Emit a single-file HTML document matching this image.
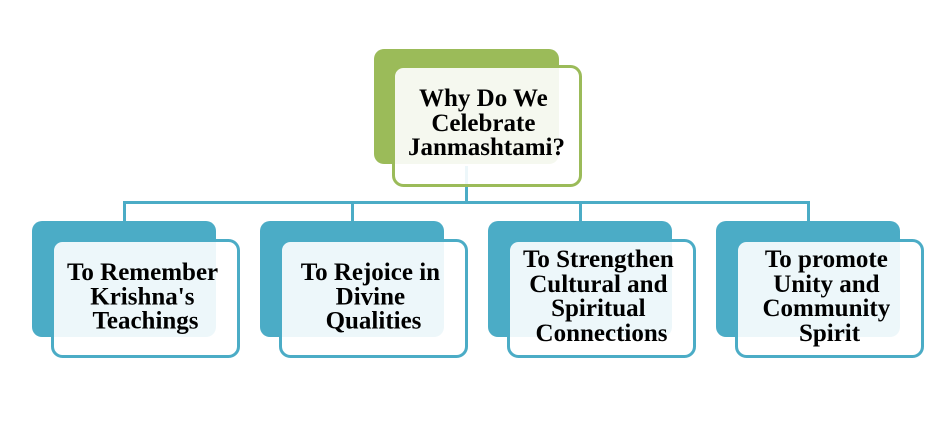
<!DOCTYPE html>
<html>
<head>
<meta charset="utf-8">
<style>
html,body{margin:0;padding:0;background:#fff;}
svg{display:block;}
text{font-family:"Liberation Serif",serif;font-weight:bold;font-size:25px;fill:#000;}
</style>
</head>
<body>
<svg width="950" height="422" viewBox="0 0 950 422" xmlns="http://www.w3.org/2000/svg">
  <!-- connectors -->
  <g stroke="#4bacc6" stroke-width="3" fill="none">
    <line x1="466.5" y1="166" x2="466.5" y2="202.5"/>
    <line x1="123" y1="202.5" x2="810" y2="202.5"/>
    <line x1="124.5" y1="201" x2="124.5" y2="222"/>
    <line x1="352.5" y1="201" x2="352.5" y2="222"/>
    <line x1="580.5" y1="201" x2="580.5" y2="222"/>
    <line x1="808.5" y1="201" x2="808.5" y2="222"/>
  </g>

  <!-- title -->
  <rect x="374" y="49" width="185" height="115" rx="10" fill="#9bbb59"/>
  <rect x="393.5" y="66.5" width="187" height="119" rx="10" fill="#fff" fill-opacity="0.9" stroke="#9bbb59" stroke-width="3"/>
  <text text-anchor="middle">
    <tspan x="486.5" y="106">Why Do We</tspan>
    <tspan x="486.5" y="131">Celebrate</tspan>
    <tspan x="486.5" y="155">Janmashtami?</tspan>
  </text>

  <!-- child 1 -->
  <rect x="32" y="221" width="184" height="116" rx="10" fill="#4bacc6"/>
  <rect x="52.5" y="240.5" width="186" height="116" rx="10" fill="#fff" fill-opacity="0.9" stroke="#4bacc6" stroke-width="3"/>
  <text text-anchor="middle">
    <tspan x="145.5" y="280">To Remember</tspan>
    <tspan x="145.5" y="304.5">Krishna's</tspan>
    <tspan x="145.5" y="328.5">Teachings</tspan>
  </text>

  <!-- child 2 -->
  <rect x="260" y="221" width="184" height="116" rx="10" fill="#4bacc6"/>
  <rect x="280.5" y="240.5" width="186" height="116" rx="10" fill="#fff" fill-opacity="0.9" stroke="#4bacc6" stroke-width="3"/>
  <text text-anchor="middle">
    <tspan x="373.5" y="280">To Rejoice in</tspan>
    <tspan x="373.5" y="304.5">Divine</tspan>
    <tspan x="373.5" y="328.5">Qualities</tspan>
  </text>

  <!-- child 3 -->
  <rect x="488" y="221" width="184" height="116" rx="10" fill="#4bacc6"/>
  <rect x="508.5" y="240.5" width="186" height="116" rx="10" fill="#fff" fill-opacity="0.9" stroke="#4bacc6" stroke-width="3"/>
  <text text-anchor="middle">
    <tspan x="601.5" y="267">To Strengthen</tspan>
    <tspan x="601.5" y="292">Cultural and</tspan>
    <tspan x="601.5" y="316">Spiritual</tspan>
    <tspan x="601.5" y="341">Connections</tspan>
  </text>

  <!-- child 4 -->
  <rect x="716" y="221" width="184" height="116" rx="10" fill="#4bacc6"/>
  <rect x="736.5" y="240.5" width="186" height="116" rx="10" fill="#fff" fill-opacity="0.9" stroke="#4bacc6" stroke-width="3"/>
  <text text-anchor="middle">
    <tspan x="829.5" y="267">To promote</tspan>
    <tspan x="829.5" y="292">Unity and</tspan>
    <tspan x="829.5" y="316">Community</tspan>
    <tspan x="829.5" y="341">Spirit</tspan>
  </text>
</svg>
</body>
</html>
